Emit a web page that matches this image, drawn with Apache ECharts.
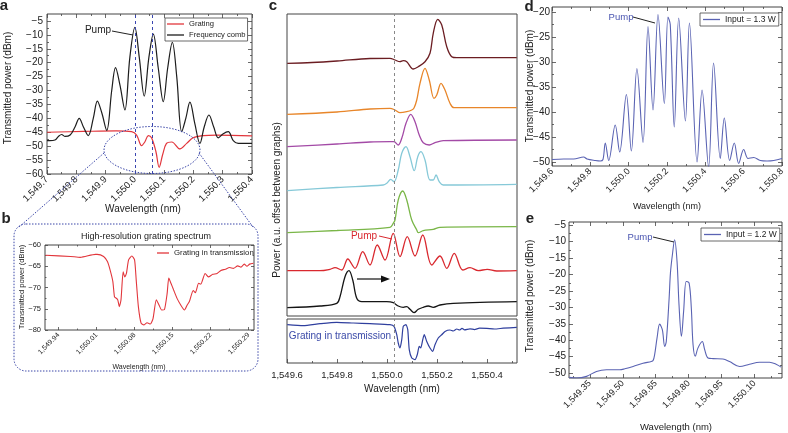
<!DOCTYPE html>
<html><head><meta charset="utf-8">
<script src="https://cdn.jsdelivr.net/npm/echarts@6/dist/echarts.min.js"></script>
<style>html,body{margin:0;padding:0;background:#fff}#c{width:788px;height:433px}</style>
</head><body><div id="c"></div>
<script>
// ---------- DATA ----------
// panel a
const aXTicks = [1549.7,1549.8,1549.9,1550.0,1550.1,1550.2,1550.3,1550.4];
const aYTicks = [-60,-55,-50,-45,-40,-35,-30,-25,-20,-15,-10,-5];
const aPumpLines = [1550.0, 1550.062];
const aGrating = [[1549.700,-45],[1549.824,-44.7],[1549.937,-44.5],[1549.989,-44.8],[1550.006,-46],[1550.023,-49.8],[1550.034,-48.5],[1550.046,-46.2],[1550.057,-47],[1550.072,-52],[1550.083,-57.6],[1550.095,-53],[1550.108,-49],[1550.126,-48.5],[1550.154,-51],[1550.177,-49],[1550.199,-47],[1550.234,-46.2],[1550.279,-46],[1550.400,-46.3]];
const aComb = [[1549.700,-48],[1549.710,-48],[1549.727,-47.8],[1549.739,-46.5],[1549.750,-45.8],[1549.761,-46.5],[1549.779,-46],[1549.796,-43],[1549.810,-40],[1549.824,-43],[1549.841,-46.2],[1549.858,-40],[1549.872,-33.8],[1549.887,-38],[1549.904,-44.3],[1549.921,-30],[1549.934,-21.8],[1549.949,-28],[1549.966,-37],[1549.983,-18],[1550.000,-7.3],[1550.015,-18],[1550.032,-32],[1550.048,-18],[1550.063,-9.7],[1550.080,-22],[1550.097,-34],[1550.112,-22],[1550.128,-12.7],[1550.143,-25],[1550.160,-44.8],[1550.174,-40],[1550.188,-34.2],[1550.205,-42],[1550.222,-49],[1550.237,-43],[1550.253,-38.8],[1550.269,-43],[1550.285,-47],[1550.302,-45.5],[1550.319,-44.8],[1550.336,-48],[1550.353,-49],[1550.400,-49]];
// panel b
const bXTicks = [1549.94,1550.01,1550.08,1550.15,1550.22,1550.29];
const bYTicks = [-80,-75,-70,-65,-60];
const bGrating = [[1549.916,-62.4],[1549.962,-62.7],[1549.980,-62.9],[1550.008,-62.2],[1550.011,-62.2],[1550.023,-62.7],[1550.030,-63.9],[1550.035,-65.9],[1550.040,-68.6],[1550.043,-72.2],[1550.046,-72.5],[1550.049,-72.9],[1550.052,-74.5],[1550.055,-72.9],[1550.059,-66.3],[1550.062,-67.5],[1550.065,-66.7],[1550.069,-63.5],[1550.075,-62.6],[1550.080,-63.5],[1550.083,-68.2],[1550.087,-74.5],[1550.092,-78.4],[1550.097,-78.8],[1550.103,-78.3],[1550.109,-78.6],[1550.114,-77.3],[1550.120,-72.9],[1550.125,-74.1],[1550.130,-75.3],[1550.135,-75.2],[1550.140,-71.4],[1550.143,-67.8],[1550.147,-69],[1550.152,-70.6],[1550.158,-72.5],[1550.165,-74.1],[1550.172,-75.3],[1550.177,-74.1],[1550.181,-73.3],[1550.188,-70.7],[1550.192,-71.2],[1550.198,-69],[1550.202,-69.2],[1550.210,-66.7],[1550.216,-67.5],[1550.224,-66.9],[1550.232,-66.7],[1550.239,-66],[1550.247,-65.7],[1550.255,-65.3],[1550.262,-65.5],[1550.270,-64.9],[1550.276,-65.2],[1550.282,-64.5],[1550.287,-65],[1550.292,-64.5],[1550.299,-64.3]];
// panel c (power in a.u., traces offset between graphs)
const cXTicks = [1549.6,1549.8,1550.0,1550.2,1550.4];
const cPumpLine = 1550.028;
const cMaroon = [[1549.601,252.7],[1549.700,253.5],[1549.800,255],[1549.932,257.5],[1550.012,257.7],[1550.032,256],[1550.052,254.3],[1550.065,255.3],[1550.079,254.3],[1550.105,247],[1550.125,249.3],[1550.152,254.3],[1550.172,262.7],[1550.185,282.7],[1550.203,296.7],[1550.219,291],[1550.239,269.3],[1550.259,259.3],[1550.279,258.3],[1550.519,258.3]];
const cOrange = [[1549.601,201.7],[1549.800,204],[1549.932,207],[1550.012,207.7],[1550.032,206],[1550.052,203.3],[1550.079,204.3],[1550.099,206],[1550.108,208],[1550.119,216],[1550.132,232.7],[1550.152,247.7],[1550.169,236],[1550.188,217.7],[1550.199,221],[1550.216,232.7],[1550.232,226],[1550.252,212.7],[1550.268,208.3],[1550.519,208.3]];
const cPurple = [[1549.601,169.3],[1549.800,172],[1549.932,174],[1550.012,174.3],[1550.028,174.3],[1550.045,171],[1550.059,177.7],[1550.076,192.7],[1550.095,201.7],[1550.112,194.3],[1550.129,181],[1550.145,173.3],[1550.169,171],[1550.192,173.3],[1550.225,175.3],[1550.519,176]];
const cCyan = [[1549.601,125.3],[1549.800,128.5],[1549.985,131],[1549.999,132.7],[1550.015,136.7],[1550.028,134.3],[1550.045,146],[1550.059,162.7],[1550.076,169.3],[1550.092,159.3],[1550.109,145.3],[1550.123,159.3],[1550.136,164.3],[1550.152,156],[1550.172,136],[1550.185,136],[1550.196,141],[1550.209,134.3],[1550.225,131],[1550.519,131.7]];
const cGreen = [[1549.601,83.3],[1549.800,85.5],[1550.012,88.7],[1550.025,92.7],[1550.032,96],[1550.045,116],[1550.063,125],[1550.079,116],[1550.099,96],[1550.119,86],[1550.125,83.3],[1550.145,85.3],[1550.185,86.7],[1550.212,88.7],[1550.519,89.3]];
const cRed = [[1549.601,45.3],[1549.732,45.3],[1549.772,46.7],[1549.792,48.3],[1549.819,46],[1549.843,57],[1549.872,47.7],[1549.903,64.3],[1549.932,51],[1549.961,71],[1549.992,56],[1550.025,82.7],[1550.052,59.3],[1550.081,79.3],[1550.112,60],[1550.143,81],[1550.179,51],[1550.212,60],[1550.239,47.7],[1550.269,62.7],[1550.303,46],[1550.332,48.3],[1550.365,45.3],[1550.401,46.7],[1550.439,45],[1550.519,45.3]];
const cBlack = [[1549.601,8.3],[1549.732,10],[1549.799,12.7],[1549.812,19.3],[1549.832,39.3],[1549.848,45.3],[1549.863,36],[1549.879,17.7],[1549.899,14.3],[1549.999,14.3],[1550.025,13.3],[1550.045,10],[1550.065,8.7],[1550.079,9.3],[1550.092,6.7],[1550.108,3.3],[1550.125,6.7],[1550.145,8.7],[1550.165,10],[1550.185,8.7],[1550.212,11],[1550.265,12.7],[1550.519,14.3]];
const cGratingTx = [[1549.601,38.3],[1549.665,37.3],[1549.732,39.3],[1549.799,40.7],[1549.865,40],[1549.932,39.3],[1550.012,38.3],[1550.028,36.6],[1550.039,28.3],[1550.045,20],[1550.052,15],[1550.059,23.3],[1550.065,36.6],[1550.076,38.3],[1550.083,33.3],[1550.089,13.3],[1550.099,5],[1550.112,3.3],[1550.121,8.3],[1550.129,16.6],[1550.135,15],[1550.143,23.3],[1550.149,28.3],[1550.159,21.6],[1550.172,15],[1550.183,11.6],[1550.192,18.3],[1550.205,25],[1550.219,28.3],[1550.232,31.6],[1550.252,33],[1550.265,32],[1550.279,34],[1550.29,33],[1550.30,34.6],[1550.31,33.2],[1550.332,34.2],[1550.35,33.4],[1550.37,34.8],[1550.399,34.6],[1550.43,34],[1550.465,34.8],[1550.519,35.6]];
// panel d
const dXTicks = [1549.6,1549.8,1550.0,1550.2,1550.4,1550.6,1550.8];
const dYTicks = [-50,-45,-40,-35,-30,-25,-20];
const dComb = [[1549.600,-49.5],[1549.661,-49.4],[1549.713,-49.4],[1549.765,-49],[1549.783,-49.4],[1549.826,-49.7],[1549.852,-49.8],[1549.866,-49.5],[1549.878,-46.2],[1549.896,-49.7],[1549.930,-42.6],[1549.953,-48],[1549.988,-36.5],[1550.014,-47.8],[1550.043,-31.3],[1550.075,-46.1],[1550.101,-22.9],[1550.127,-39.6],[1550.153,-20.5],[1550.186,-38.3],[1550.205,-21],[1550.217,-22.5],[1550.238,-43],[1550.261,-21.2],[1550.296,-41.8],[1550.317,-22.2],[1550.357,-50],[1550.383,-35.6],[1550.417,-51],[1550.443,-30.2],[1550.478,-49.3],[1550.499,-41.2],[1550.527,-49.7],[1550.551,-46.2],[1550.574,-50.3],[1550.600,-47.5],[1550.623,-49.3],[1550.652,-49.1],[1550.687,-49.7],[1550.722,-49.8],[1550.757,-49.7],[1550.800,-49.3]];
// panel e
const eXTicks = [1549.35,1549.50,1549.65,1549.80,1549.95,1550.10];
const eYTicks = [-50,-45,-40,-35,-30,-25,-20,-15,-10,-5];
const eComb = [[1549.256,-51.3],[1549.289,-51.5],[1549.335,-51],[1549.380,-49.5],[1549.426,-49],[1549.486,-49],[1549.509,-48.7],[1549.547,-48],[1549.592,-47],[1549.630,-46.5],[1549.638,-46.2],[1549.645,-44.4],[1549.656,-39.3],[1549.668,-35.1],[1549.680,-36.8],[1549.691,-41.9],[1549.698,-40.4],[1549.711,-27.2],[1549.717,-19.5],[1549.726,-13.9],[1549.736,-9.4],[1549.747,-16],[1549.756,-29.2],[1549.767,-38.8],[1549.777,-31.2],[1549.789,-22.1],[1549.802,-22.6],[1549.812,-30.2],[1549.820,-41.4],[1549.830,-44.9],[1549.842,-42.4],[1549.862,-40.4],[1549.873,-42.9],[1549.888,-45.4],[1549.911,-45.6],[1549.956,-45.7],[1549.986,-46.5],[1550.032,-48],[1550.077,-47.3],[1550.123,-46.7],[1550.168,-46.7],[1550.198,-47.3],[1550.221,-48.2]];

// ---------- CHART ----------
const FONT = '"Liberation Sans", Arial, sans-serif';
function fmtNum(v, d){
  const s = Math.abs(v).toFixed(d); const p = s.split('.');
  const ip = p[0].replace(/\B(?=(\d{3})+(?!\d))/g, ',');
  return (v < -1e-9 ? '\u2212' : '') + ip + (p[1] ? '.' + p[1] : '');
}
// minor tick positions: midpoints between majors, plus one beyond each end when inside range
function minors(t, min, max){
  const out = [];
  const st = t.length > 1 ? t[1] - t[0] : 0;
  for (let i = -1; i < t.length; i++){
    const m = t[0] + (i + 0.5) * st;
    if (m > min + 1e-9 && m < max - 1e-9) out.push(+m.toFixed(6));
  }
  return out;
}
function ax(gi, min, max, ticks, dec, o){
  o = o || {};
  const hasT = ticks && ticks.length > 0;
  return {type:'value', gridIndex:gi, min:min, max:max, position:o.pos,
    axisLine:{show:false}, splitLine:{show:false},
    axisTick:{show:hasT, inside:true, length:o.tl||4, customValues:hasT?ticks:undefined, lineStyle:{color:'#444', width:0.8}},
    axisLabel:{show:!!o.label && hasT, customValues:hasT?ticks:undefined, rotate:o.rot||0, fontSize:o.fs||9, fontFamily:FONT, color:'#222', margin:(o.m!==undefined?o.m:4),
      formatter:function(v){return fmtNum(v, dec);}}
  };
}
const xAxis = [
  ax(0,1549.7,1550.4,aXTicks,1,{label:true,rot:45,fs:9.5,pos:'bottom'}),
  ax(1,1549.915,1550.30,bXTicks,2,{label:true,rot:45,fs:7,pos:'bottom',tl:3}),
  ax(2,1549.6,1550.52,[],1,{}),
  ax(3,1549.6,1550.52,cXTicks,1,{label:true,fs:9.5,pos:'bottom',m:7}),
  ax(4,1549.6,1550.8,dXTicks,1,{label:true,rot:45,fs:9,pos:'bottom'}),
  ax(5,1549.255,1550.225,eXTicks,2,{label:true,rot:45,fs:9,pos:'bottom'})
];
const yAxis = [
  ax(0,-60,-2.5,aYTicks,0,{label:true,fs:10,pos:'left'}),
  ax(1,-80,-60,bYTicks,0,{label:true,fs:7.5,pos:'left',tl:3}),
  ax(2,0,302,[],0,{}),
  ax(3,0,44,[],0,{}),
  ax(4,-50.8,-19,dYTicks,0,{label:true,fs:10,pos:'left',m:2}),
  ax(5,-51.5,-4,eYTicks,0,{label:true,fs:10,pos:'left',m:3})
];
// mirrored major ticks + minor ticks (no labels)
[[0,1549.7,1550.4,aXTicks,-60,-2.5,aYTicks,4],[1,1549.915,1550.30,bXTicks,-80,-60,bYTicks,3],
 [4,1549.6,1550.8,dXTicks,-50.8,-19,dYTicks,4],[5,1549.255,1550.225,eXTicks,-51.5,-4,eYTicks,4]].forEach(function(p){
  const g=p[0], tl=p[7];
  xAxis.push(ax(g,p[1],p[2],p[3],1,{pos:'top',tl:tl}));
  xAxis.push(ax(g,p[1],p[2],minors(p[3],p[1],p[2]),1,{pos:'bottom',tl:tl/2}));
  xAxis.push(ax(g,p[1],p[2],minors(p[3],p[1],p[2]),1,{pos:'top',tl:tl/2}));
  yAxis.push(ax(g,p[4],p[5],p[6],0,{pos:'right',tl:tl}));
  yAxis.push(ax(g,p[4],p[5],minors(p[6],p[4],p[5]),0,{pos:'left',tl:tl/2}));
  yAxis.push(ax(g,p[4],p[5],minors(p[6],p[4],p[5]),0,{pos:'right',tl:tl/2}));
});
xAxis.push(ax(3,1549.6,1550.52,minors(cXTicks,1549.6,1550.52),1,{pos:'bottom',tl:2}));

function ln(name, data, xi, yi, color, w, extra){
  return Object.assign({type:'line', name:name, data:data, xAxisIndex:xi, yAxisIndex:yi, symbol:'none', showSymbol:false,
    smooth:0.35, lineStyle:{color:color, width:w||1.2}, itemStyle:{color:color}, z:3}, extra||{});
}
function vLines(vals, color, dash){
  return {silent:true, symbol:'none', label:{show:false}, animation:false,
    lineStyle:{color:color, type:dash, width:1}, data:vals.map(function(v){return {xAxis:v};})};
}
const series = [
  ln('Grating', aGrating, 0, 0, '#e2363c', 1.2),
  ln('Frequency comb', aComb, 0, 0, '#1d1d1d', 1.2, {markLine: vLines(aPumpLines, '#3a46b0', [3,3])}),
  ln('Grating in transmission', bGrating, 1, 1, '#e2363c', 1.1, {smooth:0.2}),
  ln('c1', cMaroon, 2, 2, '#6b1d22', 1.3, {markLine: vLines([cPumpLine], '#888', [3,3])}),
  ln('c2', cOrange, 2, 2, '#e8862a', 1.3),
  ln('c3', cPurple, 2, 2, '#a34aa6', 1.3),
  ln('c4', cCyan, 2, 2, '#86c9d8', 1.3),
  ln('c5', cGreen, 2, 2, '#7ab648', 1.3),
  ln('c6', cRed, 2, 2, '#d9282e', 1.3),
  ln('c7', cBlack, 2, 2, '#151515', 1.3),
  ln('c8', cGratingTx, 3, 3, '#2f3f9e', 1.2, {smooth:0.2, markLine: vLines([cPumpLine], '#888', [3,3])}),
  ln('Input = 1.3 W', dComb, 4, 4, '#5a63b3', 1.1),
  ln('Input = 1.2 W', eComb, 5, 5, '#5a63b3', 1.1)
];
const legBase = {icon:'rect', itemWidth:17, itemHeight:1.3, itemGap:3, borderColor:'#444', borderWidth:0.8, backgroundColor:'#fff',
  textStyle:{fontSize:7.6, fontFamily:FONT, color:'#222'}, selectedMode:false};
const legend = [
  Object.assign({}, legBase, {data:['Grating','Frequency comb'], orient:'vertical', left:165, top:18, padding:[2,2,2,2]}),
  Object.assign({}, legBase, {data:['Grating in transmission'], left:157, top:249, borderWidth:0, backgroundColor:'transparent', itemWidth:12, padding:0, textStyle:{fontSize:7.8, fontFamily:FONT, color:'#222'}}),
  Object.assign({}, legBase, {data:['Input = 1.3 W'], left:700, top:13, padding:[2,3,2,3], textStyle:{fontSize:8.5, fontFamily:FONT, color:'#222'}}),
  Object.assign({}, legBase, {data:['Input = 1.2 W'], left:701, top:228, padding:[2,3,2,3], textStyle:{fontSize:8.5, fontFamily:FONT, color:'#222'}})
];
function T(x, y, text, size, o){
  o = o || {};
  return {type:'text', x:x, y:y, rotation:o.rot||0, z:100, silent:true,
    style:{text:text, fontSize:size, fontFamily:FONT, fontWeight:o.bold?'bold':'normal', fill:o.color||'#222', align:'center', verticalAlign:'middle'}};
}
function L(x1,y1,x2,y2,color,dash,w){
  return {type:'line', z:100, silent:true, shape:{x1:x1,y1:y1,x2:x2,y2:y2}, style:{stroke:color, lineWidth:w||1, lineDash:dash||null}};
}
const R = Math.PI/2;
const DOT = '#3a46a8';
const graphic = {elements:[
  T(4,6,'a',15,{bold:true}), T(6,219,'b',15,{bold:true}), T(273,6,'c',15,{bold:true}),
  T(529,7,'d',15,{bold:true}), T(530,219,'e',15,{bold:true}),
  T(8,88,'Transmitted power (dBm)',10,{rot:R}),
  T(22,287,'Transmitted power (dBm)',7.5,{rot:R}),
  T(277,200,'Power (a.u. offset between graphs)',10,{rot:R}),
  T(530,86,'Transmitted power (dBm)',10,{rot:R}),
  T(530,296,'Transmitted power (dBm)',10,{rot:R}),
  T(143,209,'Wavelength (nm)',10),
  T(139,367,'Wavelength (nm)',7),
  T(402,389,'Wavelength (nm)',10),
  T(667,207,'Wavelength (nm)',9),
  T(676,427,'Wavelength (nm)',9.5),
  T(146,237,'High-resolution grating spectrum',9),
  T(98,30,'Pump',10), L(112,31,133,35,'#222'),
  T(364,236,'Pump',10,{color:'#d9282e'}), L(379,236,392,239,'#d9282e'),
  T(621,17.5,'Pump',9.5,{color:'#4a55b0'}), L(633,17,655,23,'#222'),
  T(640,237,'Pump',9.5,{color:'#4a55b0'}), L(653,237,674,242,'#222'),
  T(340,336,'Grating in transmission',10,{color:'#3a49a8'}),
  L(357,279,382,279,'#111',null,1.2),
  {type:'polygon', z:100, silent:true, shape:{points:[[390,279],[381,275.5],[381,282.5]]}, style:{fill:'#111'}},
  {type:'ellipse', z:100, silent:true, shape:{cx:152,cy:150,rx:48,ry:23.5}, style:{fill:'none', stroke:DOT, lineWidth:1, lineDash:[1.5,1.5]}},
  L(104,153,19,227,DOT,[1.5,1.5]), L(199,153,253,227,DOT,[1.5,1.5]),
  {type:'rect', z:100, silent:true, shape:{x:14,y:224,width:244,height:147,r:12}, style:{fill:'none', stroke:DOT, lineWidth:1, lineDash:[1.5,1.5]}}
]};
const gridBase = {show:true, borderColor:'#444', borderWidth:1, backgroundColor:'transparent', containLabel:false};
const grid = [
  {left:47, top:14, width:205, height:160},
  {left:45, top:245, width:209, height:85},
  {left:287, top:14, width:230, height:302},
  {left:287, top:319, width:230, height:44},
  {left:552, top:7, width:230, height:159},
  {left:569, top:222, width:213, height:156}
].map(function(g){return Object.assign({}, gridBase, g);});
const chart = echarts.init(document.getElementById('c'), null, {renderer:'canvas'});
chart.setOption({animation:false, backgroundColor:'#fff', grid:grid, xAxis:xAxis, yAxis:yAxis, series:series, legend:legend, graphic:graphic});
</script></body></html>
